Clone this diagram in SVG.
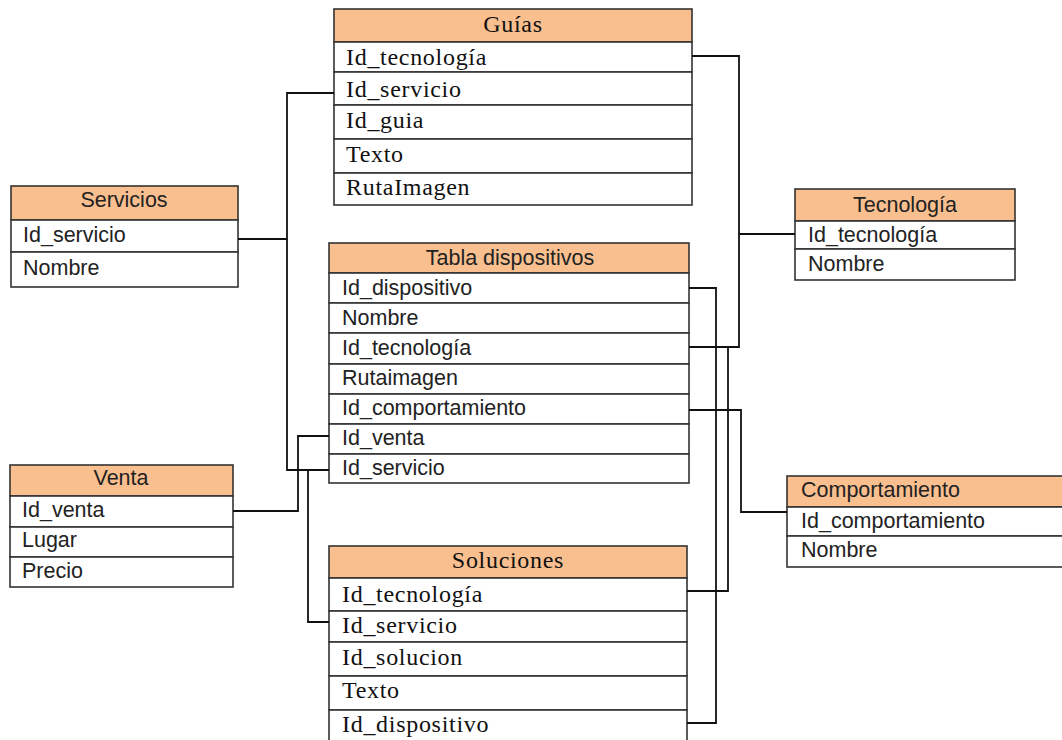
<svg xmlns="http://www.w3.org/2000/svg" width="1062" height="740" viewBox="0 0 1062 740">
<style>
.hdr{fill:#F9BF8F;stroke:#333;stroke-width:1.6}
.row{fill:#fff;stroke:#333;stroke-width:1.6}
.s{font-family:"Liberation Sans",Arial,sans-serif;font-size:21.5px;fill:#222}
.r{font-family:"Liberation Serif","Times New Roman",serif;font-size:24px;letter-spacing:0.7px;fill:#111}
.c{text-anchor:middle}
.conn{fill:none;stroke:#111;stroke-width:1.8}
</style>
<rect width="1062" height="740" fill="#fff"/>

<g id="guias">
<rect class="hdr" x="334" y="9" width="358" height="33"/>
<rect class="row" x="334" y="42" width="358" height="30"/>
<rect class="row" x="334" y="72" width="358" height="33"/>
<rect class="row" x="334" y="105" width="358" height="34"/>
<rect class="row" x="334" y="139" width="358" height="34"/>
<rect class="row" x="334" y="173" width="358" height="32"/>
<text class="r c" x="513" y="32">Guías</text>
<text class="r" x="346" y="65">Id_tecnología</text>
<text class="r" x="346" y="97">Id_servicio</text>
<text class="r" x="346" y="128">Id_guia</text>
<text class="r" x="346" y="162">Texto</text>
<text class="r" x="346" y="195">RutaImagen</text>
</g>

<g id="servicios">
<rect class="hdr" x="11" y="186" width="227" height="34"/>
<rect class="row" x="11" y="220" width="227" height="32"/>
<rect class="row" x="11" y="252" width="227" height="35"/>
<text class="s c" x="124" y="207">Servicios</text>
<text class="s" x="23" y="242">Id_servicio</text>
<text class="s" x="23" y="275">Nombre</text>
</g>

<g id="tabla-dispositivos">
<rect class="hdr" x="329" y="243" width="360" height="30"/>
<rect class="row" x="329" y="273" width="360" height="30"/>
<rect class="row" x="329" y="303" width="360" height="30"/>
<rect class="row" x="329" y="333" width="360" height="31"/>
<rect class="row" x="329" y="364" width="360" height="30"/>
<rect class="row" x="329" y="394" width="360" height="30"/>
<rect class="row" x="329" y="424" width="360" height="30"/>
<rect class="row" x="329" y="454" width="360" height="29"/>
<text class="s c" x="510" y="265">Tabla dispositivos</text>
<text class="s" x="342" y="295">Id_dispositivo</text>
<text class="s" x="342" y="325">Nombre</text>
<text class="s" x="342" y="355">Id_tecnología</text>
<text class="s" x="342" y="385">Rutaimagen</text>
<text class="s" x="342" y="415">Id_comportamiento</text>
<text class="s" x="342" y="445">Id_venta</text>
<text class="s" x="342" y="475">Id_servicio</text>
</g>

<g id="venta">
<rect class="hdr" x="10" y="465" width="223" height="31"/>
<rect class="row" x="10" y="496" width="223" height="31"/>
<rect class="row" x="10" y="527" width="223" height="30"/>
<rect class="row" x="10" y="557" width="223" height="30"/>
<text class="s c" x="121" y="485">Venta</text>
<text class="s" x="22" y="517">Id_venta</text>
<text class="s" x="22" y="547">Lugar</text>
<text class="s" x="22" y="578">Precio</text>
</g>

<g id="tecnologia">
<rect class="hdr" x="795" y="189" width="220" height="32"/>
<rect class="row" x="795" y="221" width="220" height="28"/>
<rect class="row" x="795" y="249" width="220" height="31"/>
<text class="s c" x="905" y="212">Tecnología</text>
<text class="s" x="808" y="242">Id_tecnología</text>
<text class="s" x="808" y="271">Nombre</text>
</g>

<g id="comportamiento">
<rect class="hdr" x="787" y="476" width="300" height="31"/>
<rect class="row" x="787" y="507" width="300" height="29"/>
<rect class="row" x="787" y="536" width="300" height="31"/>
<text class="s" x="801" y="497">Comportamiento</text>
<text class="s" x="801" y="528">Id_comportamiento</text>
<text class="s" x="801" y="557">Nombre</text>
</g>

<g id="soluciones">
<rect class="hdr" x="329" y="546" width="358" height="32"/>
<rect class="row" x="329" y="578" width="358" height="33"/>
<rect class="row" x="329" y="611" width="358" height="31"/>
<rect class="row" x="329" y="642" width="358" height="34"/>
<rect class="row" x="329" y="676" width="358" height="34"/>
<rect class="row" x="329" y="710" width="358" height="40"/>
<text class="r c" x="508" y="568">Soluciones</text>
<text class="r" x="342" y="602">Id_tecnología</text>
<text class="r" x="342" y="633">Id_servicio</text>
<text class="r" x="342" y="665">Id_solucion</text>
<text class="r" x="342" y="698">Texto</text>
<text class="r" x="342" y="732">Id_dispositivo</text>
</g>

<g id="connectors">
<path class="conn" d="M692,56 H739 V347 H689"/>
<path class="conn" d="M739,234 H795"/>
<path class="conn" d="M728,347 V591 H687"/>
<path class="conn" d="M689,288 H716 V723 H687"/>
<path class="conn" d="M689,410 H741 V512 H787"/>
<path class="conn" d="M334,93 H287 V470 H329"/>
<path class="conn" d="M238,239 H287"/>
<path class="conn" d="M233,511 H298 V436 H329"/>
<path class="conn" d="M329,622 H308 V470"/>
</g>
</svg>
